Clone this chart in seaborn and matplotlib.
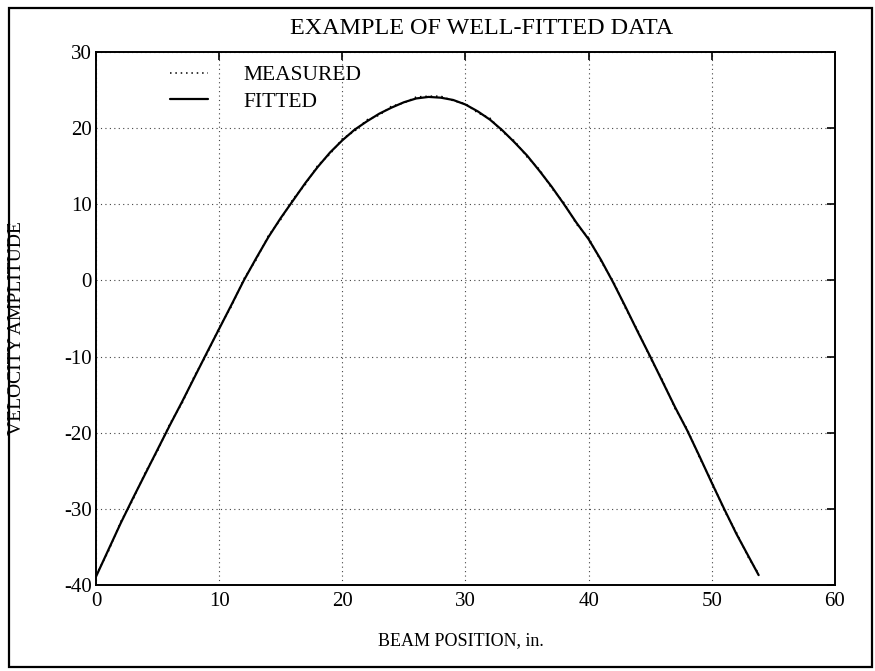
import numpy as np
import pandas as pd
import matplotlib
matplotlib.use("Agg")
import matplotlib.pyplot as plt
import seaborn as sns
from matplotlib.patches import Rectangle

# Beam positions (in.) and velocity amplitudes
beam_x = [0, 1, 2, 3, 4, 5, 6, 7, 8, 9, 10, 11, 12, 13, 14, 15, 16, 17, 18, 19,
          20, 21, 22, 23, 24, 25, 26, 27, 28, 29, 30, 31, 32, 33, 34, 35, 36, 37,
          38, 39, 40, 41, 42, 43, 44, 45, 46, 47, 48, 49, 50, 51, 52, 53, 53.8]

fitted_y = [-38.9, -35.4, -31.9, -28.6, -25.4, -22.2, -19.0, -15.9, -12.7, -9.5,
            -6.35, -3.2, 0.0, 2.9, 5.7, 8.2, 10.5, 12.8, 14.9, 16.8,
            18.4, 19.8, 20.9, 21.9, 22.7, 23.4, 23.9, 24.1, 24.0, 23.7,
            23.1, 22.2, 21.1, 19.7, 18.1, 16.4, 14.4, 12.3, 10.0, 7.6,
            5.4, 2.7, -0.3, -3.5, -6.8, -10.0, -13.3, -16.6, -19.7, -23.1,
            -26.6, -30.0, -33.3, -36.3, -38.7]

measured_y = [-38.7, -35.6, -31.7, -28.8, -25.2, -22.4, -18.8, -16.1, -12.5, -9.7,
              -6.2, -3.4, 0.2, 2.7, 5.9, 8.0, 10.7, 12.6, 15.1, 16.6,
              18.6, 19.6, 21.1, 21.7, 22.9, 23.3, 24.1, 24.2, 24.2, 23.6,
              23.2, 22.0, 21.3, 19.5, 18.3, 16.2, 14.6, 12.1, 10.2, 7.4,
              5.6, 2.5, -0.1, -3.7, -6.6, -10.2, -13.1, -16.8, -19.5, -23.3,
              -26.4, -30.2, -33.1, -36.5, -38.5]

x_ticks = [0, 10, 20, 30, 40, 50, 60]
y_ticks = [-40, -30, -20, -10, 0, 10, 20, 30]

df = pd.DataFrame({"x": beam_x, "fitted": fitted_y, "measured": measured_y})

sns.set_style("white")
plt.rcParams["font.family"] = ["Liberation Serif", "DejaVu Serif"]
plt.rcParams["axes.unicode_minus"] = False
for key in ("text.color", "axes.labelcolor", "xtick.color", "ytick.color"):
    plt.rcParams[key] = "black"

W, H = 875, 671
fig = plt.figure(figsize=(W / 100, H / 100), dpi=100)
ax = fig.add_axes([96 / W, 1 - 585 / H, (835 - 96) / W, (585 - 52) / H])

sns.lineplot(data=df, x="x", y="measured", ax=ax, color="black",
             linestyle=(0, (1, 2.5)), linewidth=1.1, label="MEASURED")
sns.lineplot(data=df, x="x", y="fitted", ax=ax, color="black",
             linewidth=1.6, label="FITTED")

ax.set_xlim(0, 60)
ax.set_ylim(-40, 30)
ax.set_xticks(x_ticks)
ax.set_yticks(y_ticks)
ax.set_xlabel("")
ax.set_ylabel("")
ax.grid(True, color="#444444", linestyle=(0, (1, 3)), linewidth=0.8)
ax.tick_params(direction="in", length=6, width=1.2, top=True, right=True,
               labelsize=15, pad=3)
ax.tick_params(axis="x", pad=5)
for s in ax.spines.values():
    s.set_color("black")
    s.set_linewidth(1.4)

leg = ax.legend(loc="upper left", bbox_to_anchor=(0.100, 0.975), frameon=False,
                fontsize=15.5, handlelength=1.75, handletextpad=1.65,
                labelspacing=0.3, borderaxespad=0.0, borderpad=0.0)

fig.text(482 / W, 1 - 28 / H, "EXAMPLE OF WELL-FITTED DATA", ha="center",
         va="center", fontsize=17.4)
fig.text(461 / W, 1 - 641 / H, "BEAM POSITION, in.", ha="center",
         va="center", fontsize=13)
fig.text(17 / W, 1 - 328 / H, "VELOCITY AMPLITUDE", ha="center",
         va="center", rotation=90, fontsize=14)

# Outer border around the whole figure
fig.patches.append(Rectangle((9 / W, 1 - 667 / H), (872 - 9) / W, (667 - 8) / H,
                             transform=fig.transFigure, fill=False,
                             edgecolor="black", linewidth=1.6))

fig.savefig("out.png", dpi=100, facecolor="white")
